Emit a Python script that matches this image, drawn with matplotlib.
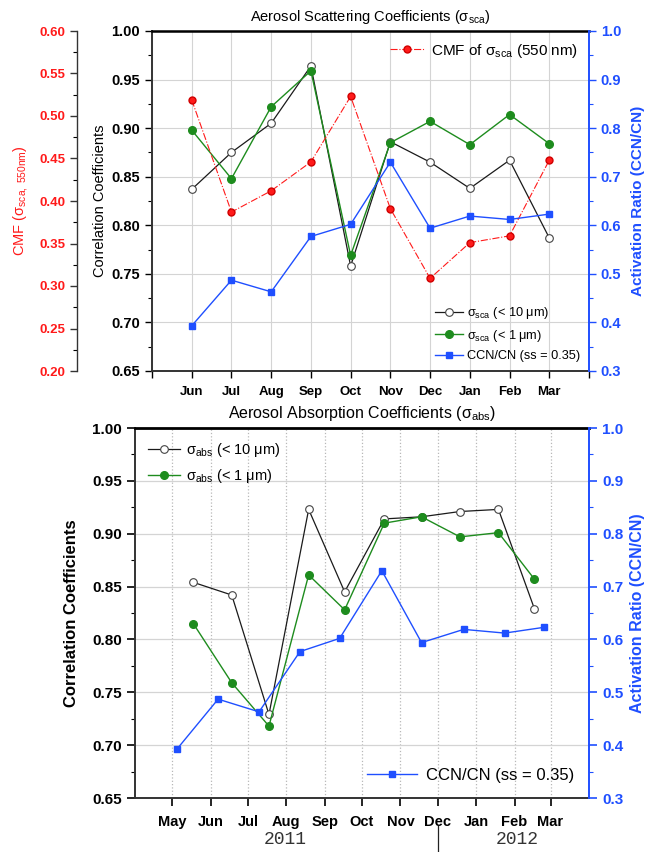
import matplotlib
matplotlib.use('Agg')
import matplotlib.pyplot as plt
import matplotlib.dates as mdates
from matplotlib.ticker import MultipleLocator, FixedLocator, StrMethodFormatter
from matplotlib.lines import Line2D
import numpy as np
from datetime import datetime

plt.rcParams['font.family'] = ['Liberation Sans', 'DejaVu Sans']
plt.rcParams['mathtext.fontset'] = 'custom'
plt.rcParams['mathtext.rm'] = 'Liberation Sans'
plt.rcParams['mathtext.it'] = 'Liberation Sans:italic'
plt.rcParams['mathtext.bf'] = 'Liberation Sans:bold'

# ---------------- data ----------------
months_top = ['Jun', 'Jul', 'Aug', 'Sep', 'Oct', 'Nov', 'Dec', 'Jan', 'Feb', 'Mar']
sca_pm10 = [0.837, 0.875, 0.905, 0.964, 0.758, 0.886, 0.865, 0.838, 0.867, 0.787]
sca_pm1 = [0.898, 0.848, 0.922, 0.959, 0.769, 0.885, 0.907, 0.883, 0.914, 0.884]
cmf_sca = [0.519, 0.387, 0.412, 0.446, 0.523, 0.391, 0.309, 0.351, 0.359, 0.448]
ccn_ratio = [0.393, 0.487, 0.463, 0.577, 0.602, 0.730, 0.594, 0.619, 0.612, 0.623]

abs_dates = ['2011-05-18', '2011-06-18', '2011-07-18', '2011-08-19', '2011-09-17',
             '2011-10-19', '2011-11-18', '2011-12-19', '2012-01-19', '2012-02-17']
abs_pm10 = [0.854, 0.842, 0.729, 0.923, 0.845, 0.914, 0.916, 0.921, 0.923, 0.829]
abs_pm1 = [0.815, 0.759, 0.718, 0.861, 0.828, 0.910, 0.916, 0.897, 0.901, 0.857]
ccn_dates = ['2011-05-05', '2011-06-07', '2011-07-10', '2011-08-12', '2011-09-13',
             '2011-10-17', '2011-11-18', '2011-12-22', '2012-01-24', '2012-02-25']
bottom_month_ticks = ['2011-05-01', '2011-06-01', '2011-07-01', '2011-08-01', '2011-09-01',
                      '2011-10-01', '2011-11-01', '2011-12-01', '2012-01-01', '2012-02-01',
                      '2012-03-01']
years = ['2011', '2012']

def to_dt(s):
    return [datetime.strptime(d, '%Y-%m-%d') for d in s]

BLACK = '#1a1a1a'
GREEN = '#1e8c1e'
BLUE = '#1f4fff'
RED = '#ff1a1a'

W, H = 648, 852
fig = plt.figure(figsize=(W / 100, H / 100), dpi=100)

def rect(l, t, r, b):
    return [l / W, 1 - b / H, (r - l) / W, (b - t) / H]

# ---------------- top panel ----------------
ax1 = fig.add_axes(rect(152, 31, 589, 371))
x_top = np.arange(1, len(months_top) + 1)
ax1.plot(x_top, sca_pm10, color=BLACK, lw=0.9, marker='o', mfc='white', mec='#444444',
         ms=5.5, mew=0.8, zorder=3)
ax1.plot(x_top, sca_pm1, color=GREEN, lw=1.0, marker='o', mfc=GREEN, mec=GREEN, ms=5.5, zorder=3)
ax1.set_xlim(0, 11)
ax1.set_ylim(0.65, 1.0)
ax1.set_xticks(np.arange(0, 12))
ax1.set_xticklabels([''] + months_top + [''], fontweight='bold', fontsize=9.5)
ax1.yaxis.set_major_locator(MultipleLocator(0.05))
ax1.yaxis.set_minor_locator(MultipleLocator(0.025))
ax1.yaxis.set_major_formatter(StrMethodFormatter('{x:.2f}'))
for lab in ax1.get_yticklabels():
    lab.set_fontweight('bold')
ax1.tick_params(axis='y', labelsize=10.5, length=5, width=1.0)
ax1.tick_params(axis='y', which='minor', length=3, width=0.8)
ax1.tick_params(axis='x', length=5, width=1.0, pad=6)
ax1.grid(True, color='#d4d4d4', lw=0.8)
ax1.set_axisbelow(True)
for s in ['left', 'bottom']:
    ax1.spines[s].set_linewidth(1.4)
    ax1.spines[s].set_color('#333333')
ax1.spines['top'].set_linewidth(1.8)
ax1.spines['right'].set_visible(False)
ax1.set_ylabel('Correlation Coefficients', fontsize=10.5, va='center')
ax1.yaxis.set_label_coords(-0.119, 0.5)
ax1.set_title('Aerosol Scattering Coefficients (σ$_{\\rm sca}$)', fontsize=10.5, pad=7)

# CMF axis (far left, red labels)
axc = ax1.twinx()
axc.plot(x_top, cmf_sca, color=RED, lw=0.8, ls='-.', marker='o', mfc=RED, mec='#d00000',
         ms=5, zorder=3)
axc.set_ylim(0.2, 0.6)
for s in ['right', 'top', 'bottom']:
    axc.spines[s].set_visible(False)
axc.spines['left'].set_visible(True)
axc.spines['left'].set_position(('axes', -0.172))
axc.spines['left'].set_color('#333333')
axc.spines['left'].set_linewidth(1.0)
axc.yaxis.set_ticks_position('left')
axc.yaxis.set_label_position('left')
axc.yaxis.set_major_locator(MultipleLocator(0.05))
axc.yaxis.set_minor_locator(MultipleLocator(0.025))
axc.yaxis.set_major_formatter(StrMethodFormatter('{x:.2f}'))
axc.tick_params(axis='y', labelsize=9.5, length=5, width=1.0, colors='#333333')
axc.tick_params(axis='y', which='minor', length=3, width=0.8)
axc.tick_params(axis='y', labelcolor=RED)
for lab in axc.get_yticklabels():
    lab.set_fontweight('bold')
    lab.set_color(RED)
axc.set_ylabel('CMF (σ$_{\\rm sca,\\ 550nm}$)', color=RED, fontsize=10.5, va='center')
axc.yaxis.set_label_coords(-0.302, 0.5)

# CCN axis (right, blue)
axb = ax1.twinx()
axb.plot(x_top, ccn_ratio, color=BLUE, lw=1.0, marker='s', mfc=BLUE, mec=BLUE, ms=5, zorder=3)
axb.set_ylim(0.3, 1.0)
for s in ['left', 'top', 'bottom']:
    axb.spines[s].set_visible(False)
axb.spines['right'].set_color(BLUE)
axb.spines['right'].set_linewidth(1.4)
axb.yaxis.set_major_locator(MultipleLocator(0.1))
axb.yaxis.set_minor_locator(MultipleLocator(0.05))
axb.yaxis.set_major_formatter(StrMethodFormatter('{x:.1f}'))
axb.tick_params(axis='y', colors=BLUE, labelsize=10.5, length=5, width=1.0)
axb.tick_params(axis='y', which='minor', length=3, width=0.8, colors=BLUE)
for lab in axb.get_yticklabels():
    lab.set_fontweight('bold')
axb.set_ylabel('Activation Ratio (CCN/CN)', color=BLUE, fontweight='bold', fontsize=11, va='center')
axb.yaxis.set_label_coords(1.112, 0.5)

h_cmf = Line2D([], [], color=RED, lw=0.8, ls='-.', marker='o', mfc=RED, mec='#d00000', ms=5)
leg1 = axb.legend([h_cmf], ['CMF of σ$_{\\rm sca}$ (550 nm)'], loc='upper right', frameon=False,
                  fontsize=11, handlelength=2.3, borderaxespad=0.3, handletextpad=0.4)
axb.add_artist(leg1)
h10 = Line2D([], [], color=BLACK, lw=0.9, marker='o', mfc='white', mec='#444444', ms=5.5, mew=0.8)
h1 = Line2D([], [], color=GREEN, lw=1.0, marker='o', mfc=GREEN, mec=GREEN, ms=5.5)
hb = Line2D([], [], color=BLUE, lw=1.0, marker='s', mfc=BLUE, mec=BLUE, ms=5)
axb.legend([h10, h1, hb], ['σ$_{\\rm sca}$ (< 10 μm)', 'σ$_{\\rm sca}$ (< 1 μm)', 'CCN/CN (ss = 0.35)'],
           loc='lower right', frameon=False, fontsize=9.2, handlelength=2.2,
           labelspacing=0.5, borderaxespad=0.3, handletextpad=0.3)

# ---------------- bottom panel ----------------
ax2 = fig.add_axes(rect(135, 428, 589, 798))
ax2.plot(to_dt(abs_dates), abs_pm10, color=BLACK, lw=0.9, marker='o', mfc='white', mec='#444444',
         ms=5.5, mew=0.8, zorder=3)
ax2.plot(to_dt(abs_dates), abs_pm1, color=GREEN, lw=1.0, marker='o', mfc=GREEN, mec=GREEN,
         ms=5.5, zorder=3)
ax2.set_xlim(datetime(2011, 4, 1), datetime(2012, 4, 1))
ax2.set_ylim(0.65, 1.0)
ax2.xaxis.set_major_locator(FixedLocator(mdates.date2num(to_dt(bottom_month_ticks))))
ax2.xaxis.set_major_formatter(mdates.DateFormatter('%b'))
for lab in ax2.get_xticklabels():
    lab.set_fontweight('bold')
ax2.tick_params(axis='x', labelsize=10.5, length=6, width=1.2, pad=6)
ax2.yaxis.set_major_locator(MultipleLocator(0.05))
ax2.yaxis.set_minor_locator(MultipleLocator(0.025))
ax2.yaxis.set_major_formatter(StrMethodFormatter('{x:.2f}'))
for lab in ax2.get_yticklabels():
    lab.set_fontweight('bold')
ax2.tick_params(axis='y', labelsize=11, length=6, width=1.2)
ax2.tick_params(axis='y', which='minor', length=3, width=0.8)
ax2.grid(axis='x', ls=':', color='#b8b8b8', lw=0.9)
ax2.grid(axis='y', ls='-', color='#d4d4d4', lw=0.9)
ax2.set_axisbelow(True)
for s in ['left', 'bottom']:
    ax2.spines[s].set_linewidth(1.4)
    ax2.spines[s].set_color('#333333')
ax2.spines['top'].set_linewidth(2.0)
ax2.spines['right'].set_visible(False)
ax2.set_ylabel('Correlation Coefficients', fontsize=12, fontweight='bold', va='center')
ax2.yaxis.set_label_coords(-0.139, 0.5)
ax2.set_title('Aerosol Absorption Coefficients (σ$_{\\rm abs}$)', fontsize=11.5, pad=7)

ax2b = ax2.twinx()
ax2b.plot(to_dt(ccn_dates), ccn_ratio, color=BLUE, lw=1.0, marker='s', mfc=BLUE, mec=BLUE,
          ms=5, zorder=3)
ax2b.set_ylim(0.3, 1.0)
for s in ['left', 'top', 'bottom']:
    ax2b.spines[s].set_visible(False)
ax2b.spines['right'].set_color(BLUE)
ax2b.spines['right'].set_linewidth(1.4)
ax2b.yaxis.set_major_locator(MultipleLocator(0.1))
ax2b.yaxis.set_minor_locator(MultipleLocator(0.05))
ax2b.yaxis.set_major_formatter(StrMethodFormatter('{x:.1f}'))
ax2b.tick_params(axis='y', colors=BLUE, labelsize=11, length=6, width=1.2)
ax2b.tick_params(axis='y', which='minor', length=3, width=0.8, colors=BLUE)
for lab in ax2b.get_yticklabels():
    lab.set_fontweight('bold')
ax2b.set_ylabel('Activation Ratio (CCN/CN)', color=BLUE, fontweight='bold', fontsize=11.5, va='center')
ax2b.yaxis.set_label_coords(1.107, 0.5)

leg3 = ax2b.legend([h10, h1], ['σ$_{\\rm abs}$ (< 10 μm)', 'σ$_{\\rm abs}$ (< 1 μm)'],
                   loc='upper left', frameon=False, fontsize=10.5, handlelength=2.2,
                   labelspacing=0.55, borderaxespad=0.5, handletextpad=0.4)
ax2b.add_artist(leg3)
hb2 = Line2D([], [], color=BLUE, lw=1.0, marker='s', mfc=BLUE, mec=BLUE, ms=5)
ax2b.legend([hb2], ['CCN/CN (ss = 0.35)'], loc='lower right', frameon=False, fontsize=12,
            handlelength=3.0, borderaxespad=0.5, handletextpad=0.5)

# year labels and separator
fig.text(285 / W, 1 - 839 / H, years[0], ha='center', va='center', family='Liberation Mono',
         fontsize=13, color='#333333')
fig.text(517 / W, 1 - 839 / H, years[1], ha='center', va='center', family='Liberation Mono',
         fontsize=13, color='#333333')
fig.add_artist(Line2D([438 / W, 438 / W], [0, 1 - 826 / H], transform=fig.transFigure,
                      color='#222222', lw=0.9))

fig.savefig('out.png', dpi=100)
